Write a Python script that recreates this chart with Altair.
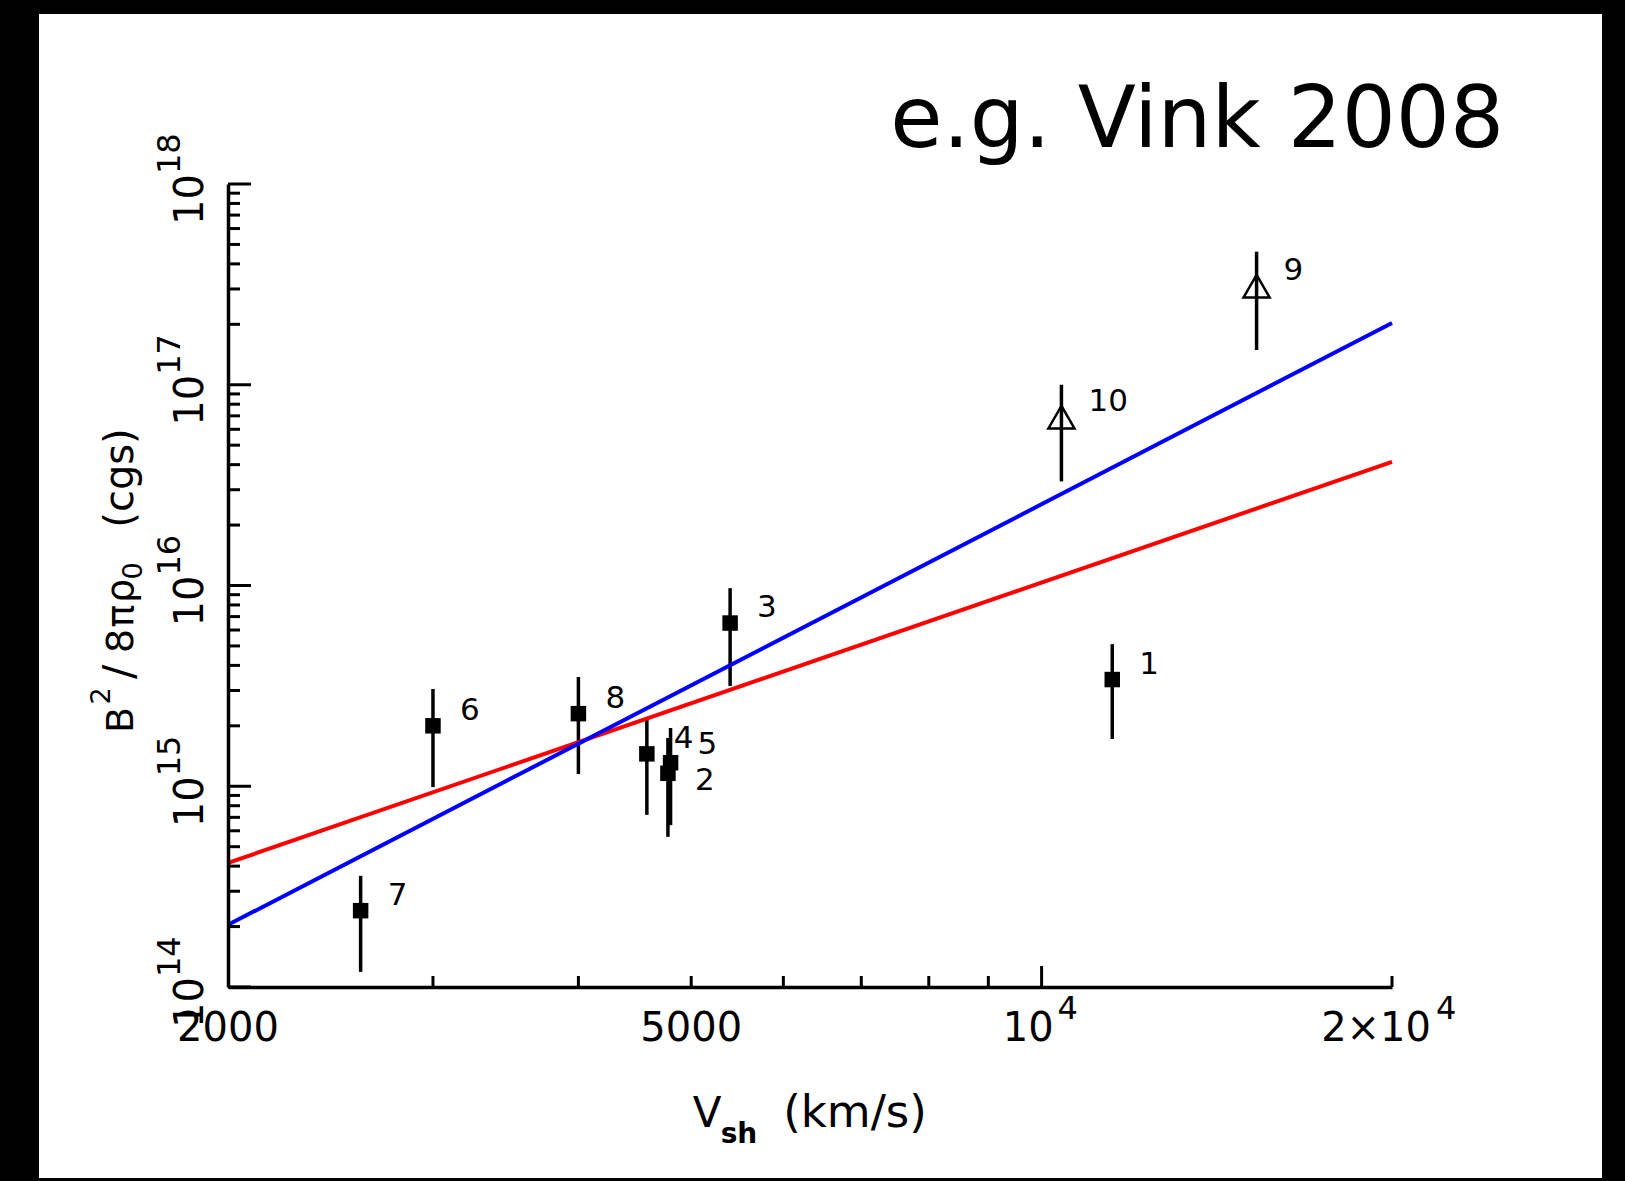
import altair as alt
import pandas as pd

# ---------------- data ----------------
ids = ["1", "2", "3", "4", "5", "6", "7", "8", "9", "10"]
vsh = [11500, 4775, 5400, 4580, 4800, 3000, 2600, 4000, 15300, 10400]
bval = [3.4e15, 1.16e15, 6.5e15, 1.45e15, 1.31e15, 2.0e15, 2.4e14, 2.3e15, 3.1e17, 6.9e16]
blo = [1.72e15, 5.6e14, 3.16e15, 7.2e14, 6.4e14, 9.9e14, 1.19e14, 1.15e15, 1.49e17, 3.3e16]
bhi = [5.1e15, 1.74e15, 9.7e15, 2.14e15, 1.95e15, 3.05e15, 3.58e14, 3.5e15, 4.6e17, 1.0e17]
kind = ["sq", "sq", "sq", "sq", "sq", "sq", "sq", "sq", "tri", "tri"]

line_v = [2000, 20000]
red_b = [4.15e14, 4.13e16]
blue_b = [2.04e14, 2.03e17]

x_minor_ticks = [3000, 4000, 5000, 6000, 7000, 8000, 9000, 20000]
x_major_ticks = [10000]
y_major_exp = [14, 15, 16, 17, 18]
y_minor_ticks = [m * 10.0 ** e for e in [14, 15, 16, 17] for m in [2, 3, 4, 5, 6, 7, 8, 9]]
y_major_ticks = [10.0 ** e for e in y_major_exp]

x_plain_labels = [2000, 5000]
x_plain_text = ["2000", "5000"]

# ---------------- layout ----------------
W, H = 1164, 803
FONT = "DejaVu Sans"

xs = alt.Scale(type="log", domain=[2000, 20000], nice=False)
ys = alt.Scale(type="log", domain=[1e14, 1e18], nice=False)
xaxis = alt.Axis(domain=True, domainColor="black", domainWidth=3.5, ticks=False,
                 labels=False, grid=False, title=None, zindex=2)
yaxis = alt.Axis(domain=True, domainColor="black", domainWidth=3.5, ticks=False,
                 labels=False, grid=False, title=None, zindex=2)


def X(f="v"):
    return alt.X(f"{f}:Q", scale=xs, axis=xaxis)


def Y(f="b"):
    return alt.Y(f"{f}:Q", scale=ys, axis=yaxis)


one = pd.DataFrame({"a": [0]})
pts = pd.DataFrame({"id": ids, "v": vsh, "b": bval, "lo": blo, "hi": bhi, "kind": kind})
red = pd.DataFrame({"v": line_v, "b": red_b})
blue = pd.DataFrame({"v": line_v, "b": blue_b})

# white panel inside black frame
panel = alt.Chart(one).mark_rect(color="white").encode(
    x=alt.value(-189), x2=alt.value(1374), y=alt.value(-170), y2=alt.value(994))

bars = alt.Chart(pts).mark_rule(color="black", strokeWidth=3.5).encode(
    x=X(), y=Y("lo"), y2=alt.Y2("hi"))

red_line = alt.Chart(red).mark_line(color="#ff0000", strokeWidth=4).encode(x=X(), y=Y())
blue_line = alt.Chart(blue).mark_line(color="#0000ff", strokeWidth=4).encode(x=X(), y=Y())

squares = alt.Chart(pts).transform_filter(alt.datum.kind == "sq").mark_point(
    shape="square", filled=True, size=240, color="black", opacity=1).encode(x=X(), y=Y())
tris = alt.Chart(pts).transform_filter(alt.datum.kind == "tri").mark_point(
    shape="triangle-up", filled=False, size=680, strokeWidth=2.5, color="black",
    opacity=1).encode(x=X(), y=Y())

lab_main = alt.Chart(pts).transform_filter(
    (alt.datum.id != "2") & (alt.datum.id != "5")).mark_text(
    align="left", baseline="alphabetic", dx=27, dy=-6, fontSize=31, font=FONT,
    color="black").encode(x=X(), y=Y(), text="id:N")
lab_five = alt.Chart(pts).transform_filter(alt.datum.id == "5").mark_text(
    align="left", baseline="alphabetic", dx=27, dy=-9, fontSize=31, font=FONT,
    color="black").encode(x=X(), y=Y(), text="id:N")
lab_two = alt.Chart(pts).transform_filter(alt.datum.id == "2").mark_text(
    align="left", baseline="alphabetic", dx=27, dy=17, fontSize=31, font=FONT,
    color="black").encode(x=X(), y=Y(), text="id:N")

# ---------------- ticks (inward) ----------------
xmin_df = pd.DataFrame({"v": x_minor_ticks})
xmaj_df = pd.DataFrame({"v": x_major_ticks})
ymin_df = pd.DataFrame({"b": y_minor_ticks})
ymaj_df = pd.DataFrame({"b": y_major_ticks, "exp": [str(e) for e in y_major_exp]})

xt_min = alt.Chart(xmin_df).mark_rule(color="black", strokeWidth=3).encode(
    x=X(), y=alt.value(H), y2=alt.value(H - 11))
xt_maj = alt.Chart(xmaj_df).mark_rule(color="black", strokeWidth=3).encode(
    x=X(), y=alt.value(H), y2=alt.value(H - 21))
yt_min = alt.Chart(ymin_df).mark_rule(color="black", strokeWidth=3).encode(
    y=Y(), x=alt.value(0), x2=alt.value(12))
yt_maj = alt.Chart(ymaj_df).mark_rule(color="black", strokeWidth=3).encode(
    y=Y(), x=alt.value(0), x2=alt.value(23))

# ---------------- tick labels ----------------
xlab_df = pd.DataFrame({"v": x_plain_labels, "t": x_plain_text})
xlab = alt.Chart(xlab_df).mark_text(align="center", baseline="alphabetic", fontSize=40,
                                   font=FONT, color="black").encode(
    x=X(), y=alt.value(857), text="t:N")


def pow_label(value, base, exp, dx_base, dx_sup):
    d = pd.DataFrame({"v": [value]})
    b = alt.Chart(d).mark_text(text=base, align="right", baseline="alphabetic", dx=dx_base,
                               fontSize=40, font=FONT, color="black").encode(
        x=X(), y=alt.value(857))
    s = alt.Chart(d).mark_text(text=exp, align="left", baseline="alphabetic", dx=dx_sup,
                               dy=-22, fontSize=32, font=FONT, color="black").encode(
        x=X(), y=alt.value(857))
    return [b, s]


xpow = pow_label(10000, "10", "4", 12, 16) + pow_label(20000, "2\u00d710", "4", 39, 44)

ylab_base = alt.Chart(ymaj_df).mark_text(text="10", angle=270, align="right",
                                         baseline="alphabetic", dx=10, fontSize=40,
                                         font=FONT, color="black").encode(
    y=Y(), x=alt.value(-25))
ylab_sup = alt.Chart(ymaj_df).mark_text(angle=270, align="left", baseline="alphabetic",
                                        dx=10, dy=-23, fontSize=32, font=FONT,
                                        color="black").encode(
    y=Y(), x=alt.value(-25), text="exp:N")


# ---------------- axis titles ----------------
def txt(s, x, y, size, angle=0, dy=0, weight="normal", align="center"):
    kw = dict(text=s, align=align, baseline="alphabetic", fontSize=size, font=FONT,
              color="black", dy=dy, fontWeight=weight)
    if angle:
        kw["angle"] = angle
    return alt.Chart(one).mark_text(**kw).encode(x=alt.value(x), y=alt.value(y))


xtitle = [
    txt("V", 479, 943, 42),
    txt("sh", 511, 959, 28, weight="bold"),
    txt("(km/s)", 627, 943, 45),
]
YB = -95
ytitle = [
    txt("B", YB, 536, 38, angle=270),
    txt("2", YB, 512, 27, angle=270, dy=-23),
    txt("/", YB, 488, 42, angle=270),
    txt("8", YB, 457, 38, angle=270),
    txt("\u03c0", YB, 432, 38, angle=270),
    txt("\u03c1", YB, 407, 38, angle=270),
    txt("0", YB, 387, 27, angle=270, dy=9),
    txt("(cgs)", YB, 294, 40, angle=270),
]

big_title = alt.Chart(one).mark_text(text="e.g. Vink 2008", align="right",
                                     baseline="alphabetic", fontSize=85, font=FONT,
                                     color="black").encode(
    x=alt.value(1276), y=alt.value(-37))

layers = ([panel, bars, red_line, blue_line, squares, tris, lab_main, lab_five, lab_two,
           xt_min, xt_maj, yt_min, yt_maj, xlab] + xpow + [ylab_base, ylab_sup]
          + xtitle + ytitle + [big_title])

chart = alt.layer(*layers).properties(
    width=W, height=H,
    autosize=alt.AutoSizeParams(type="none"),
    padding={"left": 228, "top": 184, "right": 233, "bottom": 194},
    background="black",
).configure_view(stroke=None)

chart.save("out.html", embed_options={"renderer": "svg", "actions": False})
